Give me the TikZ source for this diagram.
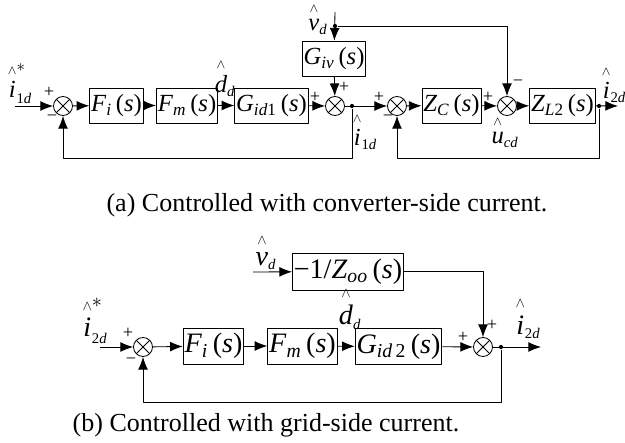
\documentclass[tikz,border=0pt]{standalone}
\usepackage{amsmath}
\usepackage{fontspec}
\setmainfont{Liberation Serif}
\usetikzlibrary{arrows.meta}
\newcommand{\hatv}[1]{\mathord{\stackrel{\raisebox{1.5pt}{$\scriptscriptstyle\wedge$}}{\text{\textit{#1}}}}}
\newcommand{\lidx}[1]{\text{\fontsize{10.5}{11}\selectfont #1}}
\newcommand{\tfn}[2]{\textit{#1}\textsubscript{#2}\,(\textit{s})}
\tikzset{
	blockbox/.style={draw, minimum height=0.875cm, inner sep=1pt},
	sumnode/.style={draw, circle, minimum size=0.475cm, inner sep=0pt,
		path picture={\draw (path picture bounding box.north west) -- (path picture bounding box.south east)
			(path picture bounding box.north east) -- (path picture bounding box.south west);}},
	tap/.style={circle, fill, inner sep=0pt, minimum size=3pt},
	sgn/.style={font=\fontsize{13}{13}\selectfont, inner sep=0pt},
}
\begin{document}
\begin{tikzpicture}[x=0.025cm, y=-0.025cm, line width=0.6pt, line join=round, >={Latex[length=9pt,width=7pt]}, font=\fontsize{17.5}{21}\selectfont]
	\useasboundingbox (0,0) rectangle (625,442);
	% (a) converter-side current loop
	\coordinate (a0) at (15,106);
	\coordinate (a9) at (618,106);
	\coordinate (v0) at (335,12);
	\node[sumnode] (s1) at (63,106) {};
	\node[blockbox, minimum width=1.125cm] (fi) at (116.5,105.5) {\tfn{F}{\textit{i}}};
	\node[blockbox, minimum width=1.3cm] (fm) at (187,105.5) {\tfn{F}{\textit{m}}};
	\node[blockbox, minimum width=1.475cm] (gid1) at (271.5,105.5) {\tfn{G}{\textit{id}1}};
	\node[sumnode] (s2) at (335,106) {};
	\node[blockbox, minimum width=1.35cm] (giv) at (334,58.5) {\tfn{G}{\textit{iv}}};
	\node[tap] (dv) at (335,26) {};
	\node[tap] (d1) at (352,106) {};
	\node[sumnode] (s3) at (397,106) {};
	\node[blockbox, minimum width=1.375cm] (zc) at (451.5,105.5) {\tfn{Z}{\textit{C}}};
	\node[sumnode] (s4) at (507,106) {};
	\node[blockbox, minimum width=1.375cm] (zl2) at (562.5,105.5) {\tfn{Z}{\textit{L}2}};
	\node[tap] (d2) at (599,106) {};
	\draw[->] (a0) -- (s1);
	\draw[->] (s1) -- (fi);
	\draw[->] (fi) -- (fm);
	\draw[->] (fm) -- (gid1);
	\draw[->] (gid1) -- (s2);
	\draw[->] (v0) -- (giv);
	\draw[->] (giv) -- (s2);
	\draw[->] (dv) -| (s4);
	\draw[->] (s2) -- (s3);
	\draw[->] (s3) -- (zc);
	\draw[->] (zc) -- (s4);
	\draw[->] (s4) -- (zl2);
	\draw[->] (zl2) -- (a9);
	\draw[->] (d1) -- ++(0,52) -| (s1);
	\draw[->] (d2) -- ++(0,52) -| (s3);
	\node (lref1) at (20,84) {$\hatv{i}^{*}_{\lidx{1\textit{d}}}$};
	\node (lvd1) at (318,19) {$\hatv{v}_{\lidx{\textit{d}}}$};
	\node (ldd1) at (225,78) {$\hatv{d}_{\lidx{\textit{d}}}$};
	\node (li1d) at (365,131) {$\hatv{i}_{\lidx{1\textit{d}}}$};
	\node (lucd) at (505,132) {$\hatv{u}_{\lidx{\textit{cd}}}$};
	\node (li2d) at (614,84) {$\hatv{i}_{\lidx{2\textit{d}}}$};
	\node[sgn] (p1) at (49,92) {+};
	\node[sgn] (m1) at (52,118) {−};
	\node[sgn] (p2) at (315,97) {+};
	\node[sgn] (p3) at (344,87) {+};
	\node[sgn] (p4) at (379,97) {+};
	\node[sgn] (m4) at (388,118) {−};
	\node[sgn] (p5) at (488,97) {+};
	\node[sgn] (m5) at (518,83) {−};
	\node[font=\fontsize{18.5}{22}\selectfont] (capa) at (327,205) {(a) Controlled with converter-side current.};
	% (b) grid-side current loop
	\begin{scope}[font=\fontsize{20}{24}\selectfont, blockbox/.append style={minimum height=0.9cm}]
		\coordinate (b0) at (100,347);
		\coordinate (b9) at (541,347);
		\coordinate (v2) at (253,272);
		\node[sumnode] (s5) at (143,347) {};
		\node[blockbox, minimum width=1.325cm] (fi2) at (213.5,346) {\tfn{F}{\textit{i}}};
		\node[blockbox, minimum width=1.475cm] (fm2) at (302.5,346) {\tfn{F}{\textit{m}}};
		\node[blockbox, minimum width=1.675cm] (gid2) at (398.5,346.5) {\tfn{G}{\textit{id}\,2}};
		\node[blockbox, minimum width=2.4cm, minimum height=0.925cm] (zoo) at (348,271.5) {−1/\tfn{Z}{\textit{oo}}};
		\node[sumnode] (s6) at (483,347) {};
		\node[tap] (d3) at (501,347) {};
		\draw[->] (b0) -- (s5);
		\draw[->] (s5) -- (fi2);
		\draw[->] (fi2) -- (fm2);
		\draw[->] (fm2) -- (gid2);
		\draw[->] (gid2) -- (s6);
		\draw[->] (v2) -- (zoo);
		\draw[->] (zoo) -| (s6);
		\draw[->] (s6) -- (b9);
		\draw[->] (d3) -- ++(0,55) -| (s5);
		\node (lref2) at (95,321) {$\hatv{i}^{*}_{\lidx{2\textit{d}}}$};
		\node (lvd2) at (266,252) {$\hatv{v}_{\lidx{\textit{d}}}$};
		\node (ldd2) at (350,308) {$\hatv{d}_{\lidx{\textit{d}}}$};
		\node (li2d2) at (528,318) {$\hatv{i}_{\lidx{2\textit{d}}}$};
	\end{scope}
	\node[sgn] (p6) at (128,333) {+};
	\node[sgn] (m6) at (131,361) {−};
	\node[sgn] (p7) at (463,337) {+};
	\node[sgn] (p8) at (492,325) {+};
	\node[font=\fontsize{18.5}{22}\selectfont] (capb) at (266,425) {(b) Controlled with grid-side current.};
\end{tikzpicture}
\end{document}
